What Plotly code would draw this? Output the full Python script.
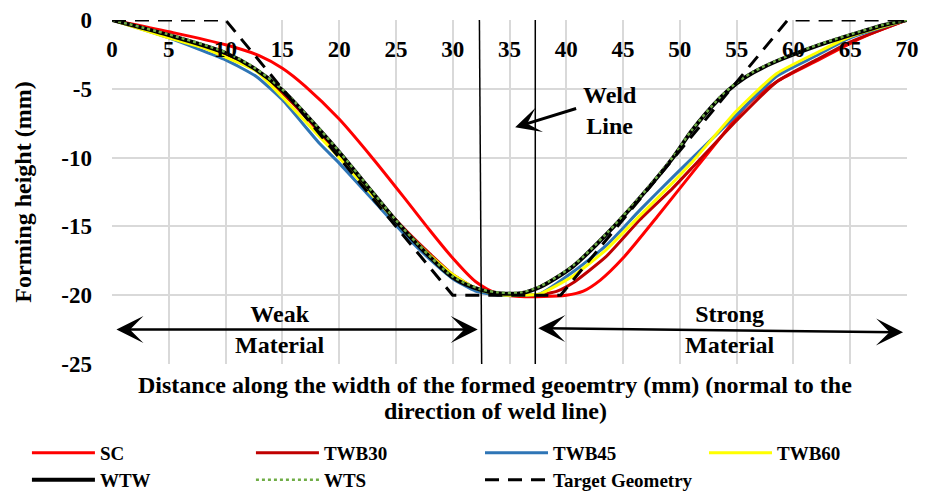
import plotly.graph_objects as go

# ---------------- data ----------------
sc_x = [0, 5, 10, 13, 15, 17, 20, 23, 26, 28, 30, 32, 34, 36, 38, 40, 41.5, 43, 45, 48, 51, 54, 56, 58.5, 62, 66, 70]
sc_y = [0, -0.85, -1.8, -2.6, -3.5, -4.8, -7.2, -10.1, -13.2, -15.3, -17.3, -19.0, -19.9, -20.1, -20.1, -20.0, -19.7, -18.9, -17.3, -14.3, -11.2, -8.1, -6.1, -4.5, -3.0, -1.3, 0]

twb30_x = [0, 5, 10, 12.5, 15, 17, 20, 23, 26, 28, 30, 32, 34, 36, 37.5, 39.2, 40.6, 43.5, 46.5, 49.4, 51, 55, 58.5, 62, 65, 70]
twb30_y = [0, -1.2, -2.5, -3.5, -5.3, -7.0, -9.8, -12.7, -15.4, -17.0, -18.5, -19.5, -20.0, -20.0, -20.0, -19.7, -19.1, -17.2, -14.5, -12.2, -10.8, -7.3, -4.5, -2.9, -1.6, 0]

twb45_x = [0, 5, 10, 12.7, 15, 18.3, 20, 23, 26, 28, 30, 32, 34, 36, 37.7, 40.6, 43.5, 46.5, 49.4, 51, 55, 58.5, 62, 65, 70]
twb45_y = [0, -1.3, -2.9, -4.1, -5.8, -9.0, -10.4, -13.1, -15.8, -17.4, -18.8, -19.7, -20.0, -20.0, -19.9, -18.3, -16.4, -13.8, -11.4, -10.1, -6.9, -4.1, -2.6, -1.3, 0]

twb60_x = [0, 5, 8, 10, 12.7, 15, 18.3, 20, 23, 26, 28, 30, 32, 34, 36, 37.7, 40.6, 43.5, 46.5, 49.4, 51, 55, 58.5, 62, 65, 70]
twb60_y = [0, -1.3, -2.0, -2.7, -3.7, -5.6, -8.5, -10.0, -12.8, -15.5, -17.1, -18.5, -19.5, -19.95, -20.0, -19.9, -18.6, -16.7, -14.2, -11.8, -10.4, -6.6, -3.9, -2.4, -1.2, 0]

wtw_x = [0, 5, 10, 12.5, 15, 18.3, 20, 23, 25, 27, 30, 32.4, 34, 36, 37.7, 40.6, 43.5, 46.5, 49.4, 51, 53.5, 55, 56.5, 58.5, 62, 65, 68, 70]
wtw_y = [0, -1.1, -2.4, -3.5, -5.1, -8.0, -9.6, -12.6, -14.6, -16.4, -18.7, -19.6, -19.85, -19.85, -19.4, -17.9, -15.6, -12.9, -10.0, -8.1, -5.7, -4.6, -3.8, -3.0, -1.9, -1.1, -0.36, 0]

wts_x = [0, 5, 10, 12.5, 15, 18.3, 20, 23, 25, 27, 30, 32.4, 34, 36, 37.7, 40.6, 43.5, 46.5, 49.4, 51, 53.5, 55, 56.5, 58.5, 62, 65, 68, 70]
wts_y = [0, -1.05, -2.35, -3.45, -5.05, -7.95, -9.55, -12.55, -14.55, -16.35, -18.65, -19.55, -19.8, -19.8, -19.35, -17.85, -15.55, -12.85, -9.95, -8.05, -5.65, -4.55, -3.75, -2.95, -1.85, -1.05, -0.33, 0]

target_x = [0, 10, 30, 39.5, 59.5, 70]
target_y = [0, 0, -20, -20, 0, 0]

weld_line_x = [32.35, 37.27]

x_ticks = list(range(0, 71, 5))
y_ticks = [0, -5, -10, -15, -20, -25]

FONT = "Liberation Serif, Times New Roman, serif"

fig = go.Figure()

def add(name, x, y, color, width, legend, dash="solid", shape="linear", smoothing=0.8):
    fig.add_trace(go.Scatter(
        x=x, y=y, mode="lines", name=f"<b>{name}</b>",
        line=dict(color=color, width=width, dash=dash, shape=shape, smoothing=smoothing),
        legend=legend, hoverinfo="skip"))

add("SC", sc_x, sc_y, "#ff0000", 3, "legend", shape="spline")
add("TWB30", twb30_x, twb30_y, "#c00000", 3, "legend", shape="spline", smoothing=0.5)
add("TWB45", twb45_x, twb45_y, "#2e75b6", 3, "legend2", shape="spline", smoothing=0.5)
add("TWB60", twb60_x, twb60_y, "#ffff00", 3, "legend2", shape="spline", smoothing=0.5)
add("WTW", wtw_x, wtw_y, "#000000", 4, "legend3", shape="spline")
add("WTS", wts_x, wts_y, "#70ad47", 2.5, "legend3", dash="dot", shape="spline")
add("Target Geometry", target_x, target_y, "#000000", 3, "legend4", dash="14px,9px")

# weld lines
fig.add_shape(type="line", xref="x", yref="y", x0=weld_line_x[0], x1=weld_line_x[0] + 0.2, y0=0, y1=-25,
              line=dict(color="black", width=1.5))
fig.add_shape(type="line", xref="x", yref="y", x0=weld_line_x[1], x1=weld_line_x[1], y0=0, y1=-25,
              line=dict(color="black", width=1.5))

bold = dict(family=FONT, size=24, color="black")

# Weld line label + arrow
fig.add_annotation(x=43.85, y=-6.6, xref="x", yref="y", text="<b>Weld<br>Line</b>",
                   showarrow=False, font=bold)
fig.add_annotation(x=35.5, y=-7.8, ax=41.0, ay=-6.4, xref="x", yref="y", axref="x", ayref="y",
                   text="", showarrow=True, arrowhead=3, arrowsize=1.4, arrowwidth=3, arrowcolor="black",
                   standoff=0)

# Weak material
fig.add_annotation(x=32.2, y=-22.5, ax=0.26, ay=-22.5, xref="x", yref="y", axref="x", ayref="y",
                   text="", showarrow=True, arrowhead=3, startarrowhead=3, arrowside="end+start",
                   arrowsize=1.8, startarrowsize=1.8, arrowwidth=2.5, arrowcolor="black",
                   standoff=0, startstandoff=0)
fig.add_annotation(x=14.8, y=-22.5, xref="x", yref="y", text="<b>Weak<br>Material</b>",
                   showarrow=False, font=bold)

# Strong material
fig.add_annotation(x=69.65, y=-22.7, ax=37.4, ay=-22.4, xref="x", yref="y", axref="x", ayref="y",
                   text="", showarrow=True, arrowhead=3, startarrowhead=3, arrowside="end+start",
                   arrowsize=1.8, startarrowsize=1.8, arrowwidth=2.5, arrowcolor="black",
                   standoff=0, startstandoff=0)
fig.add_annotation(x=54.4, y=-22.5, xref="x", yref="y", text="<b>Strong<br>Material</b>",
                   showarrow=False, font=bold)

# X axis title (below plot), two lines
fig.add_annotation(x=0.4818, y=-0.061, xref="paper", yref="paper", yanchor="middle",
                   text="<b>Distance along the width of the formed geoemtry (mm) (normal to the</b>",
                   showarrow=False, font=bold)
fig.add_annotation(x=0.4818, y=-0.1366, xref="paper", yref="paper", yanchor="middle",
                   text="<b>direction of weld line)</b>",
                   showarrow=False, font=bold)

legend_common = dict(orientation="h", xanchor="left", yanchor="middle",
                     entrywidth=146, entrywidthmode="pixels", itemwidth=63,
                     font=dict(family=FONT, size=19, color="black"), bgcolor="rgba(0,0,0,0)")
row1_y, row2_y = -0.2587, -0.3372
col1_x, col3_x = -0.107, 0.4629

fig.update_layout(
    width=920, height=484,
    margin=dict(l=104, r=21, t=12, b=128, autoexpand=False),
    paper_bgcolor="white", plot_bgcolor="white",
    font=dict(family=FONT, color="black"),
    xaxis=dict(range=[0, 70], tickvals=x_ticks, ticktext=[f"<b>{v}</b>" for v in x_ticks],
               side="top", ticklabelposition="inside", ticklabeloverflow="allow",
               ticklabelstandoff=18,
               showgrid=True, gridcolor="#d9d9d9", gridwidth=1.5, zeroline=False, showline=False,
               tickfont=dict(family=FONT, size=23, color="black"), ticks=""),
    yaxis=dict(range=[-25, 0], tickvals=y_ticks, ticktext=[f"<b>{v}</b>" for v in y_ticks],
               showgrid=True, gridcolor="#d9d9d9", gridwidth=1.5, zeroline=False, showline=False,
               tickfont=dict(family=FONT, size=23, color="black"), ticks="",
               ticklabelstandoff=19,
               title=dict(text="<b>Forming height (mm)</b>", font=dict(family=FONT, size=24, color="black"),
                          standoff=22)),
    legend=dict(x=col1_x, y=row1_y, **legend_common),
    legend2=dict(x=col3_x, y=row1_y, **legend_common),
    legend3=dict(x=col1_x, y=row2_y, **legend_common),
    legend4=dict(x=col3_x, y=row2_y, **legend_common),
    showlegend=True,
)

fig.write_html("out.html")
